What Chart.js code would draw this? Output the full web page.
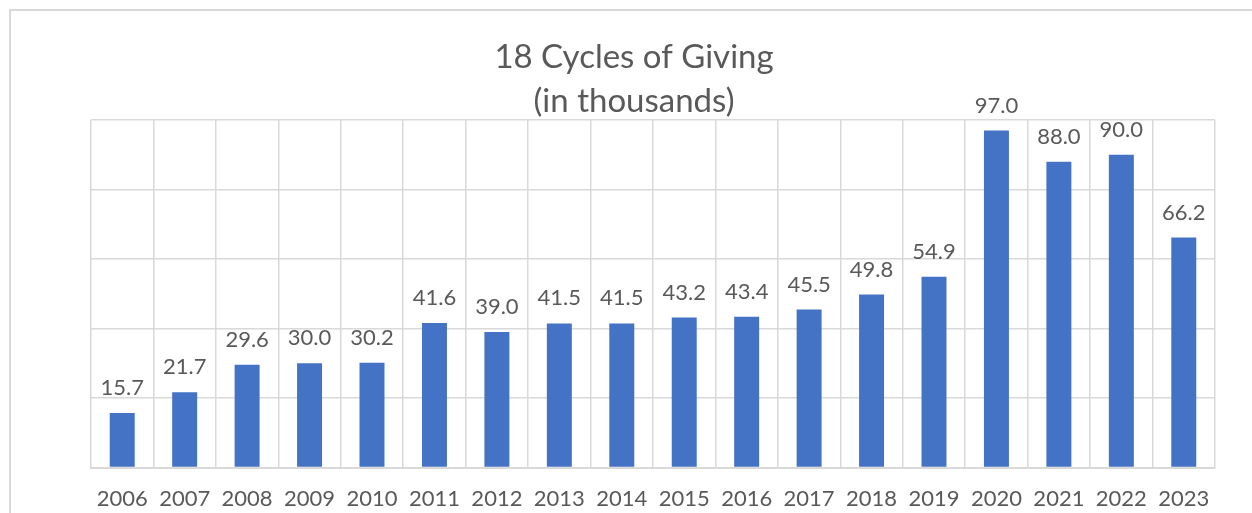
<!DOCTYPE html>
<html>
<head>
<meta charset="utf-8">
<script src="https://cdn.jsdelivr.net/npm/chart.js@4/dist/chart.umd.min.js"></script>
<style>
    html, body { margin: 0; padding: 0; background: #fff; overflow: hidden; }
    #frame {
        position: absolute; left: 9px; top: 9px;
        width: 1300px; height: 600px;
        border: 2px solid #d9d9d9;
    }
    #wrap { position: absolute; left: 0; top: 0; width: 1252px; height: 513px; }
</style>
</head>
<body>
<div id="frame"></div>
<div id="wrap"><canvas id="givingChart"></canvas></div>
<script>
// Chart data
const years = ['2006', '2007', '2008', '2009', '2010', '2011', '2012', '2013', '2014',
               '2015', '2016', '2017', '2018', '2019', '2020', '2021', '2022', '2023'];
const giving = [15.7, 21.7, 29.6, 30.0, 30.2, 41.6, 39.0, 41.5, 41.5,
                43.2, 43.4, 45.5, 49.8, 54.9, 97.0, 88.0, 90.0, 66.2];
const titleLines = ['18 Cycles of Giving', '(in thousands)'];

const textColor = '#595959';
const gridColor = '#d9d9d9';
const fontFamily = 'Lato, "Open Sans", sans-serif';

// Plugin to print the value above each bar
const valueLabels = {
    id: 'valueLabels',
    afterDatasetsDraw(chart) {
        const ctx = chart.ctx;
        const meta = chart.getDatasetMeta(0);
        ctx.save();
        ctx.font = '22px ' + fontFamily;
        ctx.fillStyle = textColor;
        ctx.textAlign = 'center';
        ctx.textBaseline = 'bottom';
        meta.data.forEach((bar, i) => {
            ctx.fillText(giving[i].toFixed(1), bar.x, bar.y - 14);
        });
        ctx.restore();
    }
};

const ctx = document.getElementById('givingChart').getContext('2d');
new Chart(ctx, {
    type: 'bar',
    data: {
        labels: years,
        datasets: [{
            data: giving,
            backgroundColor: '#4472C4',
            barPercentage: 0.4,
            categoryPercentage: 1.0
        }]
    },
    options: {
        responsive: true,
        maintainAspectRatio: false,
        animation: false,
        layout: {
            padding: { left: 53, right: 37, top: 0, bottom: -17 }
        },
        plugins: {
            legend: { display: false },
            tooltip: { enabled: false },
            title: {
                display: true,
                text: titleLines,
                color: textColor,
                font: { family: fontFamily, size: 33, weight: 'normal', lineHeight: 1.35 },
                padding: { top: 35, bottom: -4 }
            }
        },
        scales: {
            x: {
                grid: { color: gridColor, lineWidth: 1.5, drawTicks: false },
                border: { color: gridColor, width: 2 },
                ticks: {
                    color: textColor,
                    font: { family: fontFamily, size: 22 },
                    padding: 18
                }
            },
            y: {
                min: 0,
                max: 100,
                ticks: { stepSize: 20, display: false },
                grid: { color: gridColor, lineWidth: 1.5, drawTicks: false },
                border: { display: false },
                afterFit(scale) { scale.width = 38; }
            }
        }
    },
    plugins: [valueLabels]
});
</script>
</body>
</html>
